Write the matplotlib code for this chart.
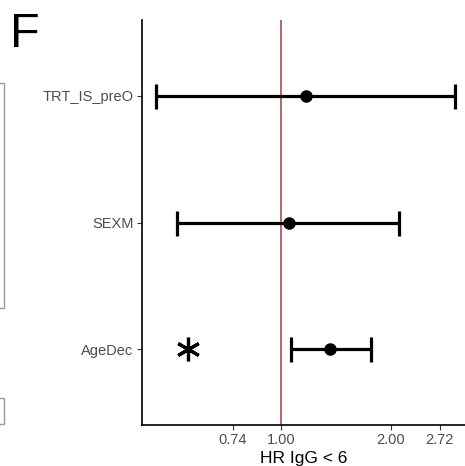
import numpy as np
import matplotlib.pyplot as plt
from matplotlib.patches import Rectangle

plt.rcParams['font.family'] = ['Liberation Sans', 'DejaVu Sans']

# hazard ratios with confidence intervals, bottom to top
terms = ['AgeDec', 'SEXM', 'TRT_IS_preO']
hr = [1.36, 1.05, 1.17]
lo = [1.065, 0.52, 0.456]
hi = [1.76, 2.10, 3.00]
sig_marks = ['*', '', '']   # significance annotation per term
sig_x = 0.557               # where the significance star sits on the HR axis
xticks = [0.74, 1.00, 2.00, 2.72]
xlabels = ['0.74', '1.00', '2.00', '2.72']

fig = plt.figure(figsize=(4.65, 4.66), dpi=100)
ax = fig.add_axes([142/465, 41/466, 323/465, 405/466])

y = np.arange(1, len(terms)+1)
hr = np.array(hr); lo = np.array(lo); hi = np.array(hi)

ax.axvline(1.0, color='#a33a40', lw=1.1, zorder=1)
ax.errorbar(hr, y, xerr=[hr-lo, hi-hr], fmt='o', color='black', ms=8,
            elinewidth=2.3, capsize=9, capthick=2.3, zorder=3)
for yi, m in zip(y, sig_marks):
    if m == '*':
        ax.plot(sig_x, yi, marker=(6, 2, 0), ms=17, mew=2.3, color='black')

ax.set_xscale('log')
ax.set_xlim(0.417, 3.19)
ax.set_ylim(0.4, 3.6)
ax.set_xticks(xticks)
ax.set_xticklabels(xlabels)
ax.xaxis.set_minor_locator(plt.NullLocator())
ax.set_yticks(y)
ax.set_yticklabels(terms)
ax.tick_params(axis='both', colors='#333333', labelcolor='#4d4d4d', labelsize=10.5,
               length=3.5, width=0.8, pad=2.5)
ax.set_xlabel('HR IgG < 6', fontsize=12.5, color='black', labelpad=3)
for s in ['top', 'right']:
    ax.spines[s].set_visible(False)
for s in ['left', 'bottom']:
    ax.spines[s].set_linewidth(1.2)
    ax.spines[s].set_color('black')

fig.text(10/465, 1-47/466, 'F', fontsize=35, color='black', va='baseline', ha='left')

# fragments of the neighbouring panel at the left edge
fig.patches.append(Rectangle((-0.01, (466-308)/466), 0.01+4/465, 225/466,
                             transform=fig.transFigure, fill=False, ec='#999999', lw=1))
fig.patches.append(Rectangle((-0.01, (466-424)/466), 0.01+4/465, 26/466,
                             transform=fig.transFigure, fill=False, ec='#999999', lw=1))

fig.savefig('out.png', dpi=100)
